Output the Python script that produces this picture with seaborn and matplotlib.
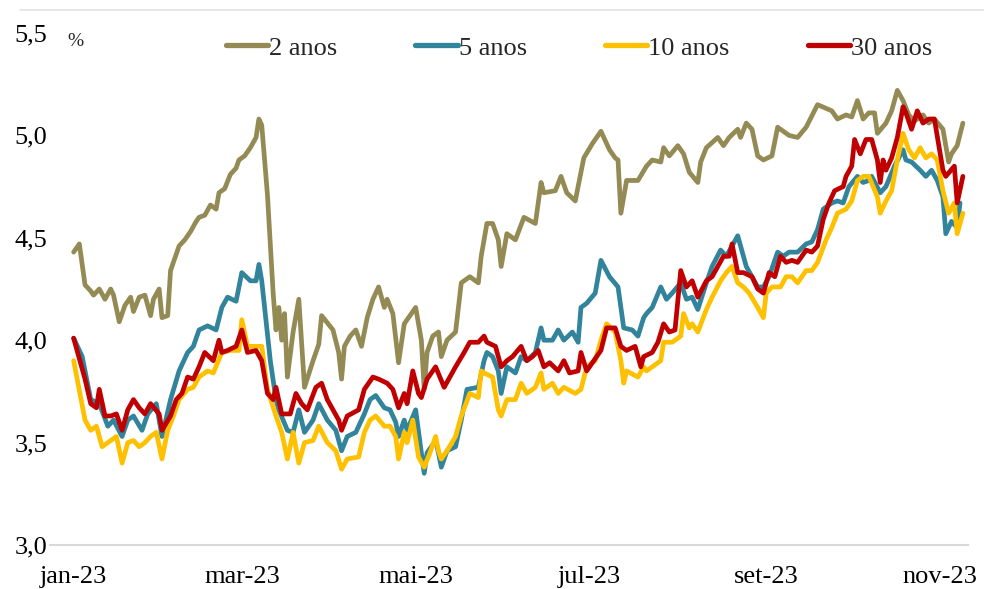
import pandas as pd
import matplotlib
matplotlib.use("Agg")
import matplotlib.pyplot as plt
import seaborn as sns
from matplotlib.lines import Line2D

# dias contados a partir de 1/jan/2023 e taxas (%)
dias_2a = [2, 4, 6, 8, 9, 11, 13, 15, 16, 18, 20, 22, 23, 25, 27, 29, 30, 32, 33, 35,
           36, 39, 41, 43, 45, 46, 48, 50, 52, 53, 55, 57, 59, 60, 62, 64, 66, 67, 68, 70,
           72, 73, 74, 75, 76, 77, 79, 81, 83, 86, 88, 89, 93, 95, 96, 97, 99, 101, 103, 105,
           107, 109, 111, 112, 114, 116, 118, 119, 122, 124, 125, 126, 128, 130, 131, 133, 136, 138, 141, 144,
           145, 147, 149, 151, 152, 154, 157, 160, 164, 166, 167, 171, 173, 175, 178, 181, 184, 187, 190, 192,
           193, 194, 196, 200, 203, 205, 208, 209, 211, 214, 216, 218, 221, 222, 224, 228, 230, 232, 235, 236,
           238, 240, 242, 244, 247, 249, 253, 256, 259, 263, 268, 270, 273, 275, 277, 279, 281, 283, 284, 287,
           289, 291, 293, 295, 297, 300, 302, 304, 307, 309, 310, 312, 314]
taxa_2a = [4.43, 4.47, 4.27, 4.24, 4.22, 4.25, 4.20, 4.25, 4.22, 4.09, 4.17, 4.21, 4.14, 4.21, 4.22, 4.12, 4.20, 4.25, 4.11, 4.12,
           4.34, 4.46, 4.49, 4.53, 4.58, 4.60, 4.61, 4.66, 4.64, 4.72, 4.74, 4.81, 4.84, 4.88, 4.90, 4.94, 4.99, 5.08, 5.05, 4.71,
           4.23, 4.05, 4.16, 4.00, 4.13, 3.82, 4.04, 4.20, 3.77, 3.90, 3.98, 4.12, 4.05, 3.94, 3.81, 3.97, 4.02, 4.05, 3.97, 4.11,
           4.20, 4.26, 4.16, 4.20, 4.13, 3.89, 4.08, 4.10, 4.16, 4.00, 3.76, 3.94, 4.02, 4.04, 3.92, 4.00, 4.04, 4.28, 4.31, 4.28,
           4.41, 4.57, 4.57, 4.49, 4.36, 4.52, 4.49, 4.60, 4.57, 4.77, 4.72, 4.73, 4.80, 4.72, 4.68, 4.89, 4.96, 5.02, 4.93, 4.89,
           4.88, 4.62, 4.78, 4.78, 4.85, 4.88, 4.87, 4.94, 4.90, 4.95, 4.91, 4.82, 4.77, 4.87, 4.94, 4.99, 4.95, 4.99, 5.03, 4.99,
           5.06, 5.03, 4.90, 4.88, 4.90, 5.04, 5.00, 4.99, 5.04, 5.15, 5.12, 5.08, 5.10, 5.09, 5.17, 5.08, 5.11, 5.11, 5.01, 5.06,
           5.12, 5.22, 5.17, 5.10, 5.07, 5.10, 5.06, 5.08, 5.03, 4.87, 4.91, 4.95, 5.06]

dias_5a = [2, 5, 8, 11, 14, 16, 19, 21, 23, 26, 28, 31, 32, 33, 36, 39, 42, 44, 46, 49,
           52, 54, 56, 59, 61, 64, 66, 67, 68, 71, 73, 74, 77, 79, 81, 83, 86, 88, 91, 94,
           96, 98, 101, 104, 106, 108, 111, 113, 115, 116, 118, 119, 122, 124, 125, 126, 129, 130, 131, 133,
           136, 138, 140, 144, 146, 147, 149, 151, 152, 154, 157, 159, 161, 164, 166, 167, 170, 172, 174, 177,
           179, 180, 182, 185, 187, 190, 193, 195, 198, 200, 202, 203, 205, 208, 210, 212, 215, 217, 219, 221,
           224, 226, 229, 231, 233, 235, 236, 238, 240, 242, 244, 246, 249, 251, 253, 256, 259, 261, 263, 265,
           268, 270, 272, 274, 277, 279, 281, 282, 285, 287, 290, 293, 294, 296, 299, 301, 303, 305, 307, 308,
           310, 312, 313]
taxa_5a = [4.01, 3.92, 3.71, 3.69, 3.58, 3.61, 3.53, 3.61, 3.63, 3.56, 3.64, 3.69, 3.61, 3.53, 3.71, 3.85, 3.94, 3.97, 4.05, 4.07,
           4.05, 4.16, 4.21, 4.19, 4.33, 4.29, 4.29, 4.37, 4.29, 3.90, 3.71, 3.66, 3.56, 3.55, 3.66, 3.55, 3.61, 3.69, 3.61, 3.56,
           3.46, 3.53, 3.55, 3.64, 3.71, 3.73, 3.67, 3.66, 3.60, 3.53, 3.61, 3.56, 3.66, 3.45, 3.35, 3.45, 3.51, 3.45, 3.38, 3.46,
           3.48, 3.61, 3.76, 3.77, 3.90, 3.94, 3.92, 3.85, 3.74, 3.87, 3.84, 3.92, 3.90, 3.94, 4.06, 4.00, 4.00, 4.05, 4.00, 4.04,
           3.99, 4.16, 4.18, 4.23, 4.39, 4.31, 4.26, 4.06, 4.05, 4.02, 4.11, 4.13, 4.16, 4.26, 4.20, 4.23, 4.28, 4.20, 4.21, 4.15,
           4.28, 4.36, 4.44, 4.41, 4.46, 4.51, 4.46, 4.36, 4.31, 4.26, 4.26, 4.31, 4.43, 4.41, 4.43, 4.43, 4.47, 4.48, 4.54, 4.64,
           4.67, 4.68, 4.67, 4.75, 4.80, 4.77, 4.78, 4.80, 4.72, 4.75, 4.85, 4.93, 4.88, 4.87, 4.83, 4.80, 4.83, 4.78, 4.70, 4.52,
           4.58, 4.55, 4.67]

dias_10a = [2, 6, 8, 10, 12, 15, 17, 19, 21, 23, 25, 27, 29, 31, 33, 35, 37, 39, 42, 44,
            46, 49, 51, 54, 57, 60, 61, 63, 66, 68, 70, 73, 75, 77, 79, 81, 83, 86, 88, 91,
            94, 96, 98, 102, 104, 106, 108, 111, 113, 115, 116, 118, 119, 121, 123, 125, 127, 129, 130, 131,
            133, 136, 138, 141, 144, 145, 146, 149, 151, 152, 154, 157, 159, 161, 164, 166, 167, 170, 172, 174,
            178, 180, 182, 185, 187, 189, 192, 194, 195, 196, 200, 202, 203, 205, 208, 209, 212, 215, 216, 218,
            219, 221, 224, 226, 229, 231, 233, 235, 237, 239, 242, 244, 245, 247, 250, 252, 254, 256, 259, 261,
            263, 266, 268, 270, 273, 275, 277, 279, 281, 284, 285, 287, 289, 291, 293, 295, 297, 299, 301, 303,
            305, 307, 309, 311, 312, 314]
taxa_10a = [3.90, 3.61, 3.56, 3.58, 3.48, 3.51, 3.53, 3.40, 3.50, 3.51, 3.48, 3.50, 3.53, 3.55, 3.42, 3.56, 3.63, 3.71, 3.76, 3.77,
            3.82, 3.85, 3.84, 3.94, 3.95, 3.95, 4.10, 3.97, 3.97, 3.97, 3.76, 3.63, 3.55, 3.42, 3.55, 3.40, 3.50, 3.51, 3.58, 3.50,
            3.46, 3.37, 3.42, 3.43, 3.55, 3.61, 3.63, 3.58, 3.58, 3.53, 3.42, 3.55, 3.50, 3.61, 3.43, 3.38, 3.45, 3.53, 3.46, 3.42,
            3.46, 3.53, 3.63, 3.74, 3.72, 3.85, 3.84, 3.82, 3.66, 3.63, 3.71, 3.71, 3.79, 3.74, 3.77, 3.84, 3.76, 3.79, 3.74, 3.77,
            3.74, 3.76, 3.87, 3.90, 4.00, 4.08, 4.04, 3.90, 3.79, 3.85, 3.82, 3.87, 3.85, 3.87, 3.90, 3.99, 3.99, 4.02, 4.13, 4.06,
            4.08, 4.04, 4.15, 4.21, 4.29, 4.33, 4.36, 4.28, 4.26, 4.23, 4.16, 4.11, 4.23, 4.26, 4.26, 4.31, 4.31, 4.28, 4.34, 4.34,
            4.38, 4.49, 4.55, 4.62, 4.64, 4.68, 4.78, 4.80, 4.80, 4.70, 4.62, 4.68, 4.73, 4.88, 5.01, 4.93, 4.89, 4.94, 4.89, 4.91,
            4.88, 4.73, 4.62, 4.67, 4.52, 4.62]

dias_30a = [2, 6, 8, 10, 11, 13, 15, 17, 19, 21, 23, 25, 27, 29, 32, 33, 36, 38, 40, 42,
            44, 46, 48, 51, 53, 54, 56, 59, 61, 63, 66, 68, 70, 72, 73, 75, 78, 80, 82, 84,
            87, 89, 91, 93, 95, 96, 98, 102, 104, 107, 109, 112, 114, 116, 118, 119, 121, 123, 124, 126,
            129, 132, 134, 136, 139, 141, 144, 146, 147, 150, 152, 154, 156, 159, 161, 163, 165, 167, 169, 172,
            174, 176, 179, 180, 182, 184, 187, 189, 192, 194, 196, 199, 201, 202, 205, 207, 209, 211, 213, 215,
            217, 219, 221, 224, 226, 228, 230, 232, 233, 235, 237, 240, 242, 244, 246, 248, 250, 252, 254, 256,
            259, 261, 263, 265, 267, 269, 272, 273, 275, 276, 278, 280, 282, 284, 285, 286, 287, 289, 291, 293,
            294, 296, 298, 300, 302, 304, 307, 308, 311, 312, 314]
taxa_30a = [4.01, 3.81, 3.69, 3.67, 3.76, 3.63, 3.63, 3.64, 3.56, 3.66, 3.71, 3.67, 3.64, 3.69, 3.64, 3.56, 3.63, 3.71, 3.74, 3.82,
            3.81, 3.87, 3.94, 3.90, 4.00, 3.94, 3.95, 3.97, 4.05, 3.94, 3.95, 3.90, 3.74, 3.71, 3.77, 3.64, 3.64, 3.74, 3.69, 3.66,
            3.77, 3.79, 3.71, 3.66, 3.61, 3.56, 3.63, 3.66, 3.76, 3.82, 3.81, 3.79, 3.76, 3.67, 3.74, 3.69, 3.85, 3.74, 3.72, 3.81,
            3.87, 3.77, 3.82, 3.87, 3.94, 3.99, 3.99, 4.02, 3.99, 3.97, 3.87, 3.90, 3.92, 3.97, 3.90, 3.92, 3.95, 3.87, 3.89, 3.85,
            3.90, 3.84, 3.85, 3.94, 3.85, 3.89, 3.95, 4.06, 4.06, 3.97, 3.95, 3.97, 3.87, 3.92, 3.94, 3.99, 4.08, 4.04, 4.05, 4.34,
            4.26, 4.29, 4.21, 4.29, 4.31, 4.36, 4.41, 4.41, 4.47, 4.33, 4.33, 4.31, 4.25, 4.23, 4.33, 4.31, 4.41, 4.38, 4.39, 4.38,
            4.44, 4.43, 4.46, 4.59, 4.67, 4.73, 4.75, 4.80, 4.85, 4.98, 4.91, 4.98, 4.98, 4.88, 4.77, 4.88, 4.83, 4.89, 4.99, 5.14,
            5.11, 5.03, 5.12, 5.06, 5.08, 5.08, 4.83, 4.80, 4.85, 4.67, 4.80]

prazos = ["2 anos", "5 anos", "10 anos", "30 anos"]
cores = ["#948A54", "#31849B", "#FFC000", "#C00000"]

y_ticks = [3.0, 3.5, 4.0, 4.5, 5.0, 5.5]
y_rotulos = ["3,0", "3,5", "4,0", "4,5", "5,0", "5,5"]
x_ticks = ["2023-01-03", "2023-03-03", "2023-05-03", "2023-07-03", "2023-09-03", "2023-11-03"]
x_rotulos = ["jan-23", "mar-23", "mai-23", "jul-23", "set-23", "nov-23"]

inicio = pd.Timestamp("2023-01-01")
partes = []
for nome, dias, taxas in zip(prazos,
                             [dias_2a, dias_5a, dias_10a, dias_30a],
                             [taxa_2a, taxa_5a, taxa_10a, taxa_30a]):
    partes.append(pd.DataFrame({"data": inicio + pd.to_timedelta(dias, unit="D"),
                                "taxa": taxas, "prazo": nome}))
df = pd.concat(partes, ignore_index=True)

sns.set_style("white")
plt.rcParams["font.family"] = ["Liberation Serif", "DejaVu Serif"]

fig = plt.figure(figsize=(9.84, 5.89), dpi=100)
ax = fig.add_axes([50 / 984, 1 - 545 / 589, (968 - 50) / 984, (545 - 33) / 589])

sns.lineplot(data=df, x="data", y="taxa", hue="prazo", hue_order=prazos,
             palette=cores, linewidth=3.4, estimator=None, sort=False, ax=ax)

ax.set_ylim(3.0, 5.5)
ax.set_yticks(y_ticks)
ax.set_yticklabels(y_rotulos)
ax.set_xlim(pd.Timestamp("2022-12-25 17:00"), pd.Timestamp("2023-11-12 19:00"))
ax.set_xticks(pd.to_datetime(x_ticks))
ax.set_xticklabels(x_rotulos)
ax.set_xlabel("")
ax.set_ylabel("")
ax.tick_params(axis="both", length=0, labelsize=19, colors="black")
ax.tick_params(axis="y", pad=2)
ax.tick_params(axis="x", pad=15)
for lado in ["top", "right", "left"]:
    ax.spines[lado].set_visible(False)
ax.spines["bottom"].set_color("#d9d9d9")
ax.spines["bottom"].set_linewidth(1.5)

ax.get_legend().remove()
alcas = [Line2D([], [], color=c, linewidth=3.8) for c in cores]
ax.legend(alcas, prazos, loc="center", bbox_to_anchor=(579 / 984, 1 - 48 / 589),
          bbox_transform=fig.transFigure, ncol=4, frameon=False, fontsize=19,
          handlelength=1.6, handletextpad=0.05, columnspacing=2.95)

fig.text(67 / 984, 1 - 41 / 589, "%", fontsize=14, va="center", ha="left")
fig.add_artist(Line2D([20 / 984, 1.0], [1 - 10 / 589, 1 - 10 / 589], color="#e3e3e3", linewidth=1.2))

fig.savefig("out.png", dpi=100)
